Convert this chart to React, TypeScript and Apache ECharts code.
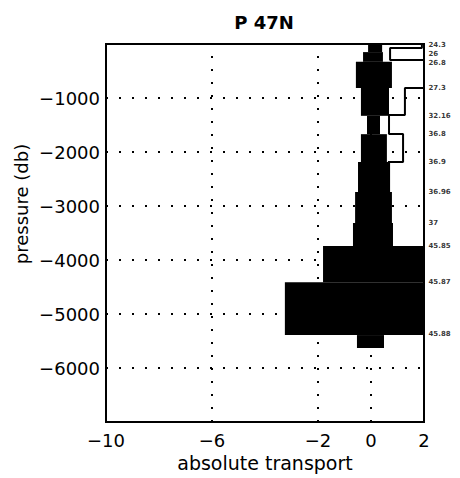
import React, { useEffect, useRef } from "react";
import * as echarts from "echarts";

// Layer boundaries (pressure, db) and transport range of each layer (black bands)
const layerTop = [0, -150, -330, -815, -1330, -1670, -2185, -2740, -3315, -3740, -4410, -5390];
const layerBottom = [-150, -330, -815, -1330, -1670, -2185, -2740, -3315, -3740, -4410, -5390, -5630];
const transportLow = [-0.11, -0.3, -0.57, -0.38, -0.15, -0.38, -0.49, -0.6, -0.68, -1.81, -3.25, -0.53];
const transportHigh = [0.42, 0.45, 0.79, 0.68, 0.34, 0.6, 0.72, 0.79, 0.83, 2.1, 2.1, 0.49];

// Outline step profile
const stepTop = [0, -74, -296, -815, -1315, -1667];
const stepBottom = [-74, -296, -815, -1315, -1667, -2185];
const stepValue = [1.92, 0.72, 2.1, 1.28, 0.68, 1.21];
const stepEnd = 0.64;

// Density surface labels on the right
const densityLabels = ["24.3", "26", "26.8", "27.3", "32.16", "36.8", "36.9", "36.96", "37", "45.85", "45.87", "45.88"];
const densityPressure = [-20, -185, -350, -815, -1333, -1667, -2185, -2741, -3315, -3741, -4407, -5370];

const xLabelValues = [-10, -6, -2, 0, 2];
const xGridValues = [-6, -2, 0];

const FONT = "DejaVu Sans";
const fmt = (v: number) => (v < 0 ? "\u2212" + Math.abs(v) : String(v));

export default function App() {
  const ref = useRef<HTMLDivElement>(null);
  useEffect(() => {
    if (!ref.current) return;
    const chart = echarts.init(ref.current, undefined, { renderer: "svg" });

    const bandData = layerTop.map((t, i) => [transportLow[i], transportHigh[i], t, layerBottom[i]]);
    const stepData: number[][] = [];
    stepValue.forEach((v, i) => {
      stepData.push([v, stepTop[i]]);
      stepData.push([v, stepBottom[i]]);
    });
    stepData.push([stepEnd, stepBottom[stepBottom.length - 1]]);

    chart.setOption({
      animation: false,
      backgroundColor: "#fff",
      grid: {
        left: 106,
        right: 36,
        top: 44,
        bottom: 56,
        show: true,
        borderColor: "#000",
        borderWidth: 2,
        backgroundColor: "transparent",
      },
      graphic: [
        {
          type: "text",
          x: 264,
          y: 22,
          style: {
            text: "P 47N",
            fontFamily: FONT,
            fontSize: 18,
            fontWeight: "bold",
            fill: "#000",
            textAlign: "center",
            textVerticalAlign: "middle",
          },
        },
        {
          type: "text",
          x: 21,
          y: 204,
          rotation: Math.PI / 2,
          style: {
            text: "pressure (db)",
            fontFamily: FONT,
            fontSize: 18,
            fill: "#000",
            textAlign: "center",
            textVerticalAlign: "middle",
          },
        },
      ],
      xAxis: {
        type: "value",
        min: -10,
        max: 2,
        interval: 2,
        name: "absolute transport",
        nameLocation: "middle",
        nameGap: 30,
        nameTextStyle: { fontFamily: FONT, fontSize: 19, color: "#000" },
        axisLine: { show: true, onZero: false, lineStyle: { color: "#000", width: 2 } },
        axisTick: { show: false },
        splitLine: { show: false },
        axisLabel: {
          margin: 9,
          color: "#000",
          fontFamily: FONT,
          fontSize: 18,
          formatter: (v: number) => (xLabelValues.includes(v) ? fmt(v) : ""),
        },
      },
      yAxis: {
        type: "value",
        min: -7000,
        max: 0,
        interval: 1000,
        axisLine: { show: true, onZero: false, lineStyle: { color: "#000", width: 2 } },
        axisTick: { show: false },
        splitLine: { show: true, lineStyle: { color: "#000", width: 2, type: [2, 11] } },
        axisLabel: {
          margin: 6,
          color: "#000",
          fontFamily: FONT,
          fontSize: 18,
          formatter: (v: number) => (v === 0 || v === -7000 ? "" : fmt(v)),
        },
      },
      series: [
        {
          type: "line",
          data: [],
          z: 1,
          silent: true,
          markLine: {
            silent: true,
            symbol: "none",
            label: { show: false },
            lineStyle: { color: "#000", width: 2, type: [2, 11] },
            data: xGridValues.map((x) => ({ xAxis: x })),
          },
        },
        {
          type: "custom",
          z: 3,
          clip: true,
          silent: true,
          data: bandData,
          encode: { x: [0, 1], y: [2, 3] },
          renderItem: (params: any, api: any) => {
            const p1 = api.coord([api.value(0), api.value(2)]);
            const p2 = api.coord([api.value(1), api.value(3)]);
            return {
              type: "rect",
              shape: { x: p1[0], y: p1[1], width: p2[0] - p1[0], height: p2[1] - p1[1] },
              style: { fill: "#000" },
            };
          },
        },
        {
          type: "line",
          z: 4,
          clip: true,
          silent: true,
          symbol: "none",
          data: stepData,
          lineStyle: { color: "#000", width: 2 },
        },
        {
          type: "scatter",
          z: 5,
          clip: false,
          silent: true,
          symbolSize: 1,
          itemStyle: { color: "rgba(0,0,0,0)" },
          data: densityPressure.map((p) => [2, p]),
          label: {
            show: true,
            position: "right",
            distance: 4,
            color: "#000",
            fontFamily: FONT,
            fontSize: 7,
            fontWeight: "bold",
            lineHeight: 7,
            formatter: (p: any) => densityLabels[p.dataIndex],
          },
        },
      ],
    });
    return () => chart.dispose();
  }, []);
  return <div ref={ref} style={{ position: "fixed", left: 0, top: 0, width: 460, height: 478 }} />;
}
